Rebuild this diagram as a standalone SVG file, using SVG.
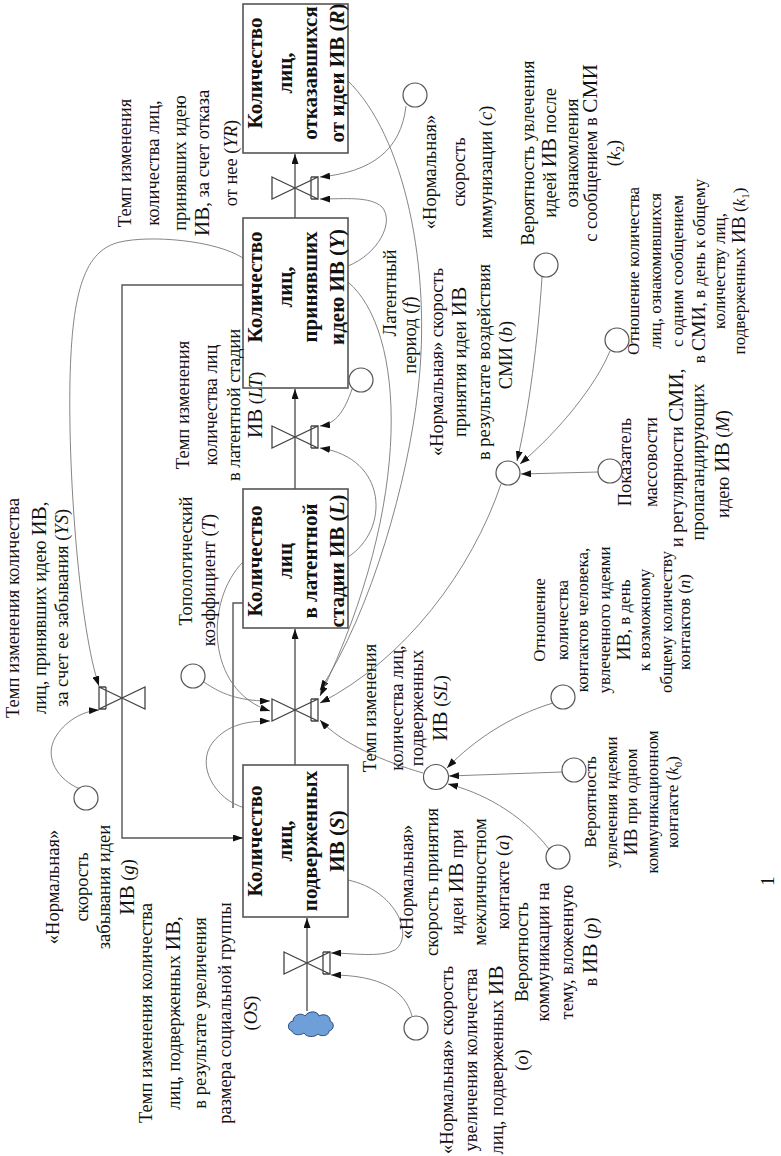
<svg xmlns="http://www.w3.org/2000/svg" width="781" height="1156" viewBox="0 0 781 1156">
<defs>
<style>
.t{font-family:"Liberation Serif","Times New Roman",serif;font-size:18.5px;fill:#111;text-anchor:middle}
.sm{font-size:17px}
.bx{font-weight:bold;font-size:21px}
.i{font-style:italic}
.iv{font-size:1.15em}
.box{fill:#fff;stroke:#555;stroke-width:1.6}
.aux{fill:#fff;stroke:#555;stroke-width:1.2}
.pipe{fill:none;stroke:#555;stroke-width:1.4}
.lnk{fill:none;stroke:#777;stroke-width:0.9}
.vv{fill:none;stroke:#444;stroke-width:1.3}
</style>
<marker id="ah" viewBox="0 0 10 7" refX="10" refY="3.5" markerWidth="10" markerHeight="7" markerUnits="userSpaceOnUse" orient="auto"><path d="M0,0 L10,3.5 L0,7 Z" fill="#111"/></marker>
<g id="vR"><path class="vv" d="M-23,-11 L23,11 L23,-11 L-23,11 Z M16,-11 H23 M16,11 H23 M16,-11 V11"/></g>
<g id="vL"><path class="vv" d="M-23,-11 L23,11 L23,-11 L-23,11 Z M-16,-11 H-23 M-16,11 H-23 M-16,-11 V11"/></g>
</defs>
<rect width="781" height="1156" fill="#fff"/>

<g id="connectors">
<path class="pipe" marker-end="url(#ah)" d="M307,1011 V918"/>
<path class="pipe" marker-end="url(#ah)" d="M295,765 V629"/>
<path class="pipe" marker-end="url(#ah)" d="M295,489 V389"/>
<path class="pipe" marker-end="url(#ah)" d="M295,218 V154"/>
<path class="pipe" marker-end="url(#ah)" d="M243,285 H122 V838 H243"/>
<path class="pipe" d="M243,603 H233 V808"/>
<path class="lnk" marker-end="url(#ah)" d="M406,106 C401,150 372,172 320,177"/>
<path class="lnk" marker-end="url(#ah)" d="M348,266 C378,254 395,222 382,207 C370,196 345,199 320,199"/>
<path class="lnk" marker-end="url(#ah)" d="M352,389 C345,410 336,424 320,426"/>
<path class="lnk" marker-end="url(#ah)" d="M348,557 C390,530 388,458 320,448"/>
<path class="lnk" marker-end="url(#ah)" d="M347,80 C405,135 432,270 418,390 C408,480 372,610 320,690"/>
<path class="lnk" marker-end="url(#ah)" d="M348,282 C405,330 415,500 320,696"/>
<path class="lnk" marker-end="url(#ah)" d="M501,484 C472,570 405,660 320,703"/>
<path class="lnk" marker-end="url(#ah)" d="M423,773 C385,762 342,744 320,720"/>
<path class="lnk" marker-end="url(#ah)" d="M204,682 C225,697 245,701 270,701"/>
<path class="lnk" marker-end="url(#ah)" d="M243,562 C205,600 205,690 270,711"/>
<path class="lnk" marker-end="url(#ah)" d="M245,808 C215,800 195,765 213,742 C228,724 248,721 270,721"/>
<path class="lnk" marker-end="url(#ah)" d="M243,258 C215,240 150,235 120,242 C85,250 72,290 70,380 C68,480 80,630 99,686"/>
<path class="lnk" marker-end="url(#ah)" d="M80,789 C58,780 44,758 55,738 C64,722 82,711 99,710"/>
<path class="lnk" marker-end="url(#ah)" d="M542,277 C538,340 529,410 517,461"/>
<path class="lnk" marker-end="url(#ah)" d="M610,351 C596,385 560,430 520,464"/>
<path class="lnk" marker-end="url(#ah)" d="M598,472 L521,474"/>
<path class="lnk" marker-end="url(#ah)" d="M553,703 C510,716 474,740 447,768"/>
<path class="lnk" marker-end="url(#ah)" d="M562,772 L449,776"/>
<path class="lnk" marker-end="url(#ah)" d="M549,849 C520,812 480,792 448,784"/>
<path class="lnk" marker-end="url(#ah)" d="M348,880 C395,890 415,935 395,950 C380,958 352,953 331,953"/>
<path class="lnk" marker-end="url(#ah)" d="M412,1016 C405,990 380,975 331,975"/>
</g>

<g id="stock-S">
<rect class="box" x="243" y="765" width="105" height="152"/>
<text class="t bx" transform="rotate(-90)"><tspan x="-841" y="261.5">Количество</tspan><tspan x="-841" y="291.5">лиц,</tspan><tspan x="-841" y="316.5">подверженных</tspan><tspan x="-841" y="343.5">ИВ (<tspan class="i">S</tspan>)</tspan></text>
</g>
<g id="stock-L">
<rect class="box" x="243" y="489" width="105" height="139"/>
<text class="t bx" transform="rotate(-90)"><tspan x="-561" y="261.5">Количество</tspan><tspan x="-561" y="291.5">лиц</tspan><tspan x="-561" y="316.5">в латентной</tspan><tspan x="-561" y="343.5">стадии ИВ (<tspan class="i">L</tspan>)</tspan></text>
</g>
<g id="stock-Y">
<rect class="box" x="243" y="218" width="105" height="170"/>
<text class="t bx" transform="rotate(-90)"><tspan x="-287" y="261.5">Количество</tspan><tspan x="-287" y="291.5">лиц,</tspan><tspan x="-287" y="316.5">принявших</tspan><tspan x="-287" y="343.5">идею ИВ (<tspan class="i">Y</tspan>)</tspan></text>
</g>
<g id="stock-R">
<rect class="box" x="243" y="4" width="105" height="149"/>
<text class="t bx" transform="rotate(-90)"><tspan x="-73" y="261.5">Количество</tspan><tspan x="-73" y="291.5">лиц,</tspan><tspan x="-73" y="316.5">отказавшихся</tspan><tspan x="-73" y="343.5">от идеи ИВ (<tspan class="i">R</tspan>)</tspan></text>
</g>

<g id="source-cloud">
<path d="M292,1031 c-5,-1 -5,-9 1,-10 c0,-6 8,-9 12,-5 c3,-5 12,-6 14,0 c5,-3 12,0 11,5 c5,2 4,9 -1,10 c0,5 -8,6 -11,3 c-4,4 -12,3 -14,-1 c-4,3 -11,2 -12,-2 z" fill="#6f9fd8" stroke="#2d4d7d" stroke-width="1"/>
</g>

<g id="valve-OS">
<use href="#vR" x="307" y="963"/>
<text class="t" transform="rotate(-90)"><tspan x="-1013" y="151.5">Темп изменения количества</tspan><tspan x="-1013" y="179.5">лиц, подверженных <tspan class="iv">ИВ</tspan>,</tspan><tspan x="-1013" y="205.5">в результате увеличения</tspan><tspan x="-1013" y="230.5">размера социальной группы</tspan><tspan x="-1013" y="256.5">(<tspan class="i">OS</tspan>)</tspan></text>
</g>
<g id="valve-SL">
<use href="#vR" x="295" y="710"/>
<text class="t" transform="rotate(-90)"><tspan x="-708" y="375.5">Темп изменения</tspan><tspan x="-708" y="402.5">количества лиц,</tspan><tspan x="-708" y="422.5">подверженных</tspan><tspan x="-708" y="446.5"><tspan class="iv">ИВ</tspan> (<tspan class="i">SL</tspan>)</tspan></text>
</g>
<g id="valve-LT">
<use href="#vR" x="295" y="437"/>
<text class="t" transform="rotate(-90)"><tspan x="-405" y="188.5">Темп изменения</tspan><tspan x="-405" y="216.5">количества лиц</tspan><tspan x="-405" y="239.5">в латентной стадии</tspan><tspan x="-405" y="261.5"><tspan class="iv">ИВ</tspan> (<tspan class="i">LT</tspan>)</tspan></text>
</g>
<g id="valve-YR">
<use href="#vR" x="295" y="188"/>
<text class="t" transform="rotate(-90)"><tspan x="-163" y="130.5">Темп изменения</tspan><tspan x="-163" y="158.5">количества лиц,</tspan><tspan x="-163" y="185.5">принявших идею</tspan><tspan x="-163" y="208.5"><tspan class="iv">ИВ</tspan>, за счет отказа</tspan><tspan x="-163" y="236.5">от нее (<tspan class="i">YR</tspan>)</tspan></text>
</g>
<g id="valve-YS">
<use href="#vL" x="122" y="698"/>
<text class="t" transform="rotate(-90)"><tspan x="-608" y="18.5">Темп изменения количества</tspan><tspan x="-608" y="45.5">лиц, принявших идею <tspan class="iv">ИВ</tspan>,</tspan><tspan x="-608" y="67.5">за счет ее забывания (<tspan class="i">YS</tspan>)</tspan></text>
</g>

<g id="aux-g">
<circle class="aux" cx="86" cy="798" r="12"/>
<text class="t" transform="rotate(-90)"><tspan x="-887" y="58.5">«Нормальная»</tspan><tspan x="-887" y="87.5">скорость</tspan><tspan x="-887" y="109.5">забывания идеи</tspan><tspan x="-887" y="133.5"><tspan class="iv">ИВ</tspan> (<tspan class="i">g</tspan>)</tspan></text>
</g>
<g id="aux-T">
<circle class="aux" cx="193" cy="676" r="12"/>
<text class="t" transform="rotate(-90)"><tspan x="-561" y="191.5">Топологический</tspan><tspan x="-580" y="214.5">коэффициент (<tspan class="i">T</tspan>)</tspan></text>
</g>
<g id="aux-f">
<circle class="aux" cx="361" cy="380" r="12"/>
<text class="t" transform="rotate(-90)"><tspan x="-293" y="395.5">Латентный</tspan><tspan x="-335" y="415.5">период (<tspan class="i">f</tspan>)</tspan></text>
</g>
<g id="aux-c">
<circle class="aux" cx="415" cy="95" r="12"/>
<text class="t" transform="rotate(-90)"><tspan x="-172" y="435.5">«Нормальная»</tspan><tspan x="-172" y="464.5">скорость</tspan><tspan x="-172" y="491.5">иммунизации (<tspan class="i">c</tspan>)</tspan></text>
</g>
<g id="aux-b">
<circle class="aux" cx="508" cy="473" r="12"/>
<text class="t" transform="rotate(-90)"><tspan x="-362" y="442.5">«Нормальная» скорость</tspan><tspan x="-362" y="465.5">принятия идеи <tspan class="iv">ИВ</tspan></tspan><tspan x="-362" y="489.5">в результате воздействия</tspan><tspan x="-355" y="511.5">СМИ (<tspan class="i">b</tspan>)</tspan></text>
</g>
<g id="aux-k2">
<circle class="aux" cx="546" cy="265" r="12"/>
<text class="t" transform="rotate(-90)"><tspan x="-153" y="533.5">Вероятность увлечения</tspan><tspan x="-153" y="555.5">идеей <tspan class="iv">ИВ</tspan> после</tspan><tspan x="-153" y="577.5">ознакомления</tspan><tspan x="-153" y="596.5">с сообщением в <tspan class="iv">СМИ</tspan></tspan><tspan x="-153" y="619.5">(<tspan class="i">k</tspan><tspan dy="4" font-size="12">2</tspan><tspan dy="-4">)</tspan></tspan></text>
</g>
<g id="aux-k1">
<circle class="aux" cx="617" cy="340" r="12"/>
<text class="t sm" transform="rotate(-90)"><tspan x="-271" y="639">Отношение количества</tspan><tspan x="-271" y="661">лиц, ознакомившихся</tspan><tspan x="-271" y="683">с одним сообщением</tspan><tspan x="-271" y="705">в <tspan class="iv">СМИ</tspan>, в день к общему</tspan><tspan x="-271" y="725">количеству лиц,</tspan><tspan x="-271" y="745">подверженных <tspan class="iv">ИВ</tspan> (<tspan class="i">k</tspan><tspan dy="4" font-size="11">1</tspan><tspan dy="-4">)</tspan></tspan></text>
</g>
<g id="aux-M">
<circle class="aux" cx="610" cy="471" r="12"/>
<text class="t" transform="rotate(-90)"><tspan x="-462" y="630.5">Показатель</tspan><tspan x="-462" y="656.5">массовости</tspan><tspan x="-458" y="682.5">и регулярности <tspan class="iv">СМИ</tspan>,</tspan><tspan x="-462" y="703.5">пропагандирующих</tspan><tspan x="-464" y="728.5">идею <tspan class="iv">ИВ</tspan> (<tspan class="i">M</tspan>)</tspan></text>
</g>
<g id="aux-n">
<circle class="aux" cx="563" cy="697" r="12"/>
<text class="t sm" transform="rotate(-90)"><tspan x="-620" y="545">Отношение</tspan><tspan x="-620" y="568">количества</tspan><tspan x="-620" y="588">контактов человека,</tspan><tspan x="-620" y="610">увлеченного идеями</tspan><tspan x="-620" y="630"><tspan class="iv">ИВ</tspan>, в день</tspan><tspan x="-620" y="650">к возможному</tspan><tspan x="-622" y="672">общему количеству</tspan><tspan x="-622" y="690">контактов (<tspan class="i">n</tspan>)</tspan></text>
</g>
<g id="aux-k0">
<circle class="aux" cx="574" cy="770" r="12"/>
<text class="t sm" transform="rotate(-90)"><tspan x="-802" y="596">Вероятность</tspan><tspan x="-802" y="617">увлечения идеями</tspan><tspan x="-802" y="637"><tspan class="iv">ИВ</tspan> при одном</tspan><tspan x="-802" y="658">коммуникационном</tspan><tspan x="-802" y="678">контакте (<tspan class="i">k</tspan><tspan dy="4" font-size="11">0</tspan><tspan dy="-4">)</tspan></tspan></text>
</g>
<g id="aux-a">
<circle class="aux" cx="436" cy="777" r="12.5"/>
<text class="t" transform="rotate(-90)"><tspan x="-882" y="412.5">«Нормальная»</tspan><tspan x="-882" y="437.5">скорость принятия</tspan><tspan x="-882" y="462.5">идеи <tspan class="iv">ИВ</tspan> при</tspan><tspan x="-882" y="485.5">межличностном</tspan><tspan x="-882" y="508.5">контакте (<tspan class="i">a</tspan>)</tspan></text>
</g>
<g id="aux-p">
<circle class="aux" cx="558" cy="857" r="12"/>
<text class="t" transform="rotate(-90)"><tspan x="-952" y="527.5">Вероятность</tspan><tspan x="-952" y="548.5">коммуникации на</tspan><tspan x="-952" y="572.5">тему, вложенную</tspan><tspan x="-952" y="596.5">в <tspan class="iv">ИВ</tspan> (<tspan class="i">p</tspan>)</tspan></text>
</g>
<g id="aux-o">
<circle class="aux" cx="416" cy="1028" r="12"/>
<text class="t" transform="rotate(-90)"><tspan x="-1060" y="452.5">«Нормальная» скорость</tspan><tspan x="-1060" y="476.5">увеличения количества</tspan><tspan x="-1060" y="502.5">лиц, подверженных <tspan class="iv">ИВ</tspan></tspan><tspan x="-1060" y="527.5">(<tspan class="i">o</tspan>)</tspan></text>
</g>
<text class="t" transform="rotate(-90)"><tspan x="-881" y="774">1</tspan></text>
</svg>
